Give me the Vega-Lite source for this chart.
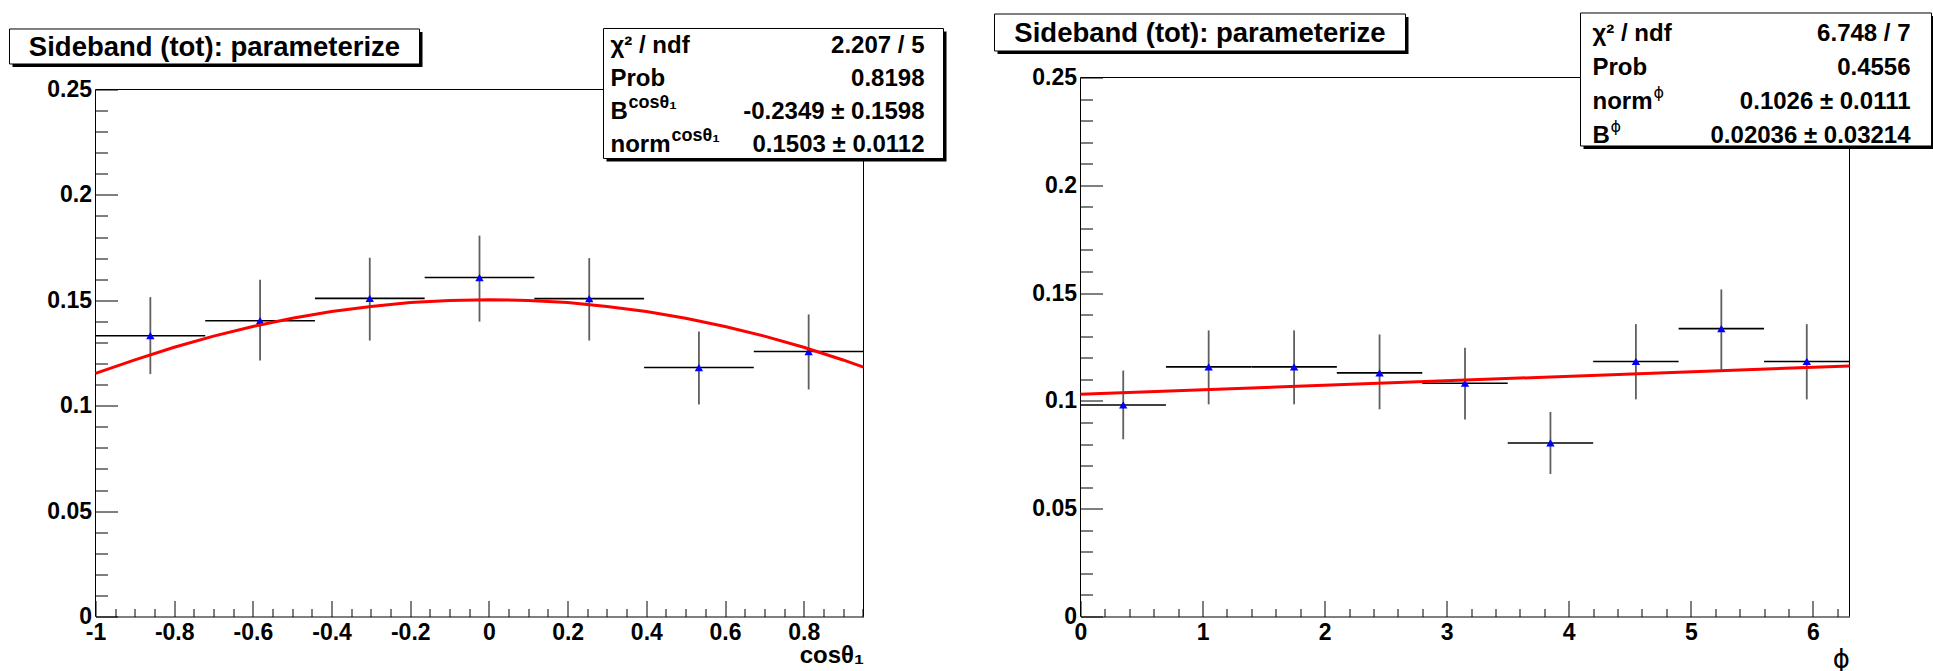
{
  "$schema": "https://vega.github.io/schema/vega-lite/v6.json",
  "background": "white",
  "padding": {"left": 8.5, "top": 11.5, "right": 0, "bottom": 0},
  "bounds": "flush",
  "spacing": 217,
  "config": {
    "view": {"stroke": null},
    "font": "Liberation Sans",
    "axis": {
      "labelFont": "Liberation Sans",
      "labelFontWeight": "bold",
      "labelFontSize": 23,
      "labelColor": "black",
      "tickColor": "black",
      "tickWidth": 1,
      "domainColor": "black",
      "domainWidth": 1,
      "grid": false,
      "labelOverlap": false,
      "labelFlush": false,
      "labelBound": false,
      "titleFont": "Liberation Sans",
      "titleColor": "black"
    }
  },
  "datasets": {
    "one": [{}],
    "left": [
      {"x": -0.8606, "xlo": -1.0, "xhi": -0.7211, "y": 0.1332, "ylo": 0.1150, "yhi": 0.1515},
      {"x": -0.5817, "xlo": -0.7211, "xhi": -0.4423, "y": 0.1403, "ylo": 0.1214, "yhi": 0.1597},
      {"x": -0.3029, "xlo": -0.4423, "xhi": -0.1634, "y": 0.1509, "ylo": 0.1309, "yhi": 0.1702},
      {"x": -0.0240, "xlo": -0.1634, "xhi": 0.1154, "y": 0.1608, "ylo": 0.1399, "yhi": 0.1807},
      {"x": 0.2549, "xlo": 0.1154, "xhi": 0.3943, "y": 0.1508, "ylo": 0.1309, "yhi": 0.1700},
      {"x": 0.5337, "xlo": 0.3943, "xhi": 0.6731, "y": 0.1181, "ylo": 0.1006, "yhi": 0.1352},
      {"x": 0.8126, "xlo": 0.6731, "xhi": 0.952, "y": 0.1257, "ylo": 0.1077, "yhi": 0.1433}
    ],
    "leftfit": [
      {"x": -1.0, "f": 0.1153}, {"x": -0.9, "f": 0.1217}, {"x": -0.8, "f": 0.1277},
      {"x": -0.7, "f": 0.1330}, {"x": -0.6, "f": 0.1376}, {"x": -0.5, "f": 0.1415},
      {"x": -0.4, "f": 0.1447}, {"x": -0.3, "f": 0.1471}, {"x": -0.2, "f": 0.1489},
      {"x": -0.1, "f": 0.1499}, {"x": 0.0, "f": 0.1503}, {"x": 0.1, "f": 0.1499},
      {"x": 0.2, "f": 0.1489}, {"x": 0.3, "f": 0.1471}, {"x": 0.4, "f": 0.1447},
      {"x": 0.5, "f": 0.1415}, {"x": 0.6, "f": 0.1376}, {"x": 0.7, "f": 0.1330},
      {"x": 0.8, "f": 0.1277}, {"x": 0.9, "f": 0.1217}, {"x": 0.952, "f": 0.1183}
    ],
    "right": [
      {"x": 0.35, "xlo": 0.0, "xhi": 0.7, "y": 0.0981, "ylo": 0.0822, "yhi": 0.1141},
      {"x": 1.05, "xlo": 0.7, "xhi": 1.4, "y": 0.1158, "ylo": 0.0984, "yhi": 0.1327},
      {"x": 1.75, "xlo": 1.4, "xhi": 2.1, "y": 0.1158, "ylo": 0.0984, "yhi": 0.1327},
      {"x": 2.45, "xlo": 2.1, "xhi": 2.8, "y": 0.1130, "ylo": 0.0961, "yhi": 0.1308},
      {"x": 3.15, "xlo": 2.8, "xhi": 3.5, "y": 0.1082, "ylo": 0.0914, "yhi": 0.1246},
      {"x": 3.85, "xlo": 3.5, "xhi": 4.2, "y": 0.0805, "ylo": 0.0661, "yhi": 0.0949},
      {"x": 4.55, "xlo": 4.2, "xhi": 4.9, "y": 0.1183, "ylo": 0.1007, "yhi": 0.1356},
      {"x": 5.25, "xlo": 4.9, "xhi": 5.6, "y": 0.1335, "ylo": 0.1144, "yhi": 0.1517},
      {"x": 5.95, "xlo": 5.6, "xhi": 6.3, "y": 0.1183, "ylo": 0.1007, "yhi": 0.1356}
    ],
    "rightfit": [
      {"x": 0.0, "f": 0.1031},
      {"x": 6.3, "f": 0.1162}
    ]
  },
  "hconcat": [
    {
      "width": 768,
      "height": 539,
      "resolve": {"axis": {"x": "independent", "y": "independent"}},
      "layer": [
        {
          "data": {"name": "left"},
          "mark": {"type": "rule", "color": "black", "strokeWidth": 1.6},
          "encoding": {
            "x": {
              "field": "xlo", "type": "quantitative",
              "scale": {"domain": [-1, 0.952], "nice": false, "zero": false},
              "axis": {
                "orient": "bottom",
                "labelOverlap": false,
                "values": [-1, -0.8, -0.6, -0.4, -0.2, 0, 0.2, 0.4, 0.6, 0.8],
                "tickSize": -16,
                "labelPadding": 21,
                "labelExpr": "toString(round(datum.value*10)/10)",
                "title": "cosθ₁",
                "titleFontSize": 24,
                "titleFontWeight": "bold",
                "titleAnchor": "end",
                "titleAlign": "right",
                "titleBaseline": "alphabetic",
                "titleX": 768,
                "titleY": 46
              }
            },
            "x2": {"field": "xhi"},
            "y": {
              "field": "y", "type": "quantitative",
              "scale": {"domain": [0, 0.25569], "nice": false, "zero": false},
              "axis": {
                "orient": "left",
                "labelOverlap": false,
                "values": [0, 0.05, 0.1, 0.15, 0.2, 0.25],
                "domain": false,
                "tickSize": -22,
                "labelPadding": 26,
                "labelExpr": "toString(round(datum.value*100)/100)",
                "title": null
              }
            }
          }
        },
        {
          "data": {"name": "left"},
          "mark": {"type": "rule", "color": "#5f5f5f", "strokeWidth": 1.8},
          "encoding": {
            "x": {
              "field": "x", "type": "quantitative",
              "axis": {
                "orient": "bottom",
                "values": [-0.95, -0.9, -0.85, -0.75, -0.7, -0.65, -0.55, -0.5, -0.45, -0.35, -0.3, -0.25, -0.15, -0.1, -0.05, 0.05, 0.1, 0.15, 0.25, 0.3, 0.35, 0.45, 0.5, 0.55, 0.65, 0.7, 0.75, 0.85, 0.9, 0.95],
                "tickSize": -8,
                "labels": false,
                "domain": false,
                "title": null
              }
            },
            "y": {
              "field": "ylo", "type": "quantitative",
              "axis": {
                "orient": "left",
                "values": [0.01, 0.02, 0.03, 0.04, 0.06, 0.07, 0.08, 0.09, 0.11, 0.12, 0.13, 0.14, 0.16, 0.17, 0.18, 0.19, 0.21, 0.22, 0.23, 0.24],
                "tickSize": -12,
                "labels": false,
                "domain": false,
                "title": null
              }
            },
            "y2": {"field": "yhi"}
          }
        },
        {
          "data": {"name": "one"},
          "mark": {"type": "rule", "color": "black", "strokeWidth": 1},
          "encoding": {
            "x": {"datum": -1, "type": "quantitative", "axis": null},
            "x2": {"datum": 0.952},
            "y": {"datum": 0.25, "type": "quantitative", "axis": null}
          }
        },
        {
          "data": {"name": "one"},
          "mark": {"type": "rule", "color": "black", "strokeWidth": 1},
          "encoding": {
            "x": {"datum": 0.952, "type": "quantitative", "axis": null},
            "y": {"datum": 0, "type": "quantitative", "axis": null},
            "y2": {"datum": 0.25}
          }
        },
        {
          "data": {"name": "one"},
          "mark": {"type": "rule", "color": "black", "strokeWidth": 1},
          "encoding": {
            "x": {"datum": -1, "type": "quantitative", "axis": null},
            "y": {"datum": 0, "type": "quantitative", "axis": null},
            "y2": {"datum": 0.25}
          }
        },
        {
          "data": {"name": "left"},
          "mark": {"type": "point", "shape": "triangle-up", "filled": true, "color": "#0000ff", "size": 70, "opacity": 1},
          "encoding": {
            "x": {"field": "x", "type": "quantitative", "axis": null},
            "y": {"field": "y", "type": "quantitative", "axis": null}
          }
        },
        {
          "data": {"name": "leftfit"},
          "mark": {"type": "line", "color": "#ff0000", "strokeWidth": 3},
          "encoding": {
            "x": {"field": "x", "type": "quantitative", "axis": null},
            "y": {"field": "f", "type": "quantitative", "axis": null}
          }
        },
        {
          "data": {"name": "one"},
          "mark": {"type": "rect", "fill": "black"},
          "encoding": {
            "x": {"datum": -1.21096, "type": "quantitative", "axis": null},
            "x2": {"datum": -0.16887},
            "y": {"datum": 0.27728, "type": "quantitative", "axis": null},
            "y2": {"datum": 0.26067}
          }
        },
        {
          "data": {"name": "one"},
          "mark": {"type": "rect", "fill": "white", "stroke": "black", "strokeWidth": 1},
          "encoding": {
            "x": {"datum": -1.21859, "type": "quantitative", "axis": null},
            "x2": {"datum": -0.17649},
            "y": {"datum": 0.27870, "type": "quantitative", "axis": null},
            "y2": {"datum": 0.26210}
          }
        },
        {
          "data": {"name": "one"},
          "mark": {"type": "text", "text": "Sideband (tot): parameterize", "font": "Liberation Sans", "fontWeight": "bold", "fontSize": 27.5, "align": "center", "baseline": "alphabetic", "color": "black"},
          "encoding": {
            "x": {"datum": -0.69754, "type": "quantitative", "axis": null},
            "y": {"datum": 0.26589, "type": "quantitative", "axis": null}
          }
        },
        {
          "data": {"name": "one"},
          "mark": {"type": "rect", "fill": "black"},
          "encoding": {
            "x": {"datum": 0.29880, "type": "quantitative", "axis": null},
            "x2": {"datum": 1.16298},
            "y": {"datum": 0.27751, "type": "quantitative", "axis": null},
            "y2": {"datum": 0.21584}
          }
        },
        {
          "data": {"name": "one"},
          "mark": {"type": "rect", "fill": "white", "stroke": "black", "strokeWidth": 1},
          "encoding": {
            "x": {"datum": 0.29118, "type": "quantitative", "axis": null},
            "x2": {"datum": 1.15535},
            "y": {"datum": 0.27894, "type": "quantitative", "axis": null},
            "y2": {"datum": 0.21727}
          }
        },
        {
          "data": {"name": "one"},
          "mark": {"type": "text", "text": ["χ² / ndf", "Prob", "B", "norm"], "lineHeight": 33, "font": "Liberation Sans", "fontWeight": "bold", "fontSize": 24, "align": "left", "baseline": "alphabetic", "color": "black"},
          "encoding": {
            "x": {"datum": 0.30897, "type": "quantitative", "axis": null},
            "y": {"datum": 0.26732, "type": "quantitative", "axis": null}
          }
        },
        {
          "data": {"name": "one"},
          "mark": {"type": "text", "text": ["2.207 / 5", "0.8198", "-0.2349 ± 0.1598", "0.1503 ± 0.0112"], "lineHeight": 33, "font": "Liberation Sans", "fontWeight": "bold", "fontSize": 24, "align": "right", "baseline": "alphabetic", "color": "black"},
          "encoding": {
            "x": {"datum": 1.10706, "type": "quantitative", "axis": null},
            "y": {"datum": 0.26732, "type": "quantitative", "axis": null}
          }
        },
        {
          "data": {"name": "one"},
          "mark": {"type": "text", "text": "cosθ₁", "font": "Liberation Sans", "fontWeight": "bold", "fontSize": 18, "align": "left", "baseline": "alphabetic", "color": "black"},
          "encoding": {
            "x": {"datum": 0.35474, "type": "quantitative", "axis": null},
            "y": {"datum": 0.24123, "type": "quantitative", "axis": null}
          }
        },
        {
          "data": {"name": "one"},
          "mark": {"type": "text", "text": "cosθ₁", "font": "Liberation Sans", "fontWeight": "bold", "fontSize": 18, "align": "left", "baseline": "alphabetic", "color": "black"},
          "encoding": {
            "x": {"datum": 0.46403, "type": "quantitative", "axis": null},
            "y": {"datum": 0.22557, "type": "quantitative", "axis": null}
          }
        }
      ]
    },
    {
      "width": 769,
      "height": 539,
      "resolve": {"axis": {"x": "independent", "y": "independent"}},
      "layer": [
        {
          "data": {"name": "right"},
          "mark": {"type": "rule", "color": "black", "strokeWidth": 1.6},
          "encoding": {
            "x": {
              "field": "xlo", "type": "quantitative",
              "scale": {"domain": [0, 6.3], "nice": false, "zero": false},
              "axis": {
                "orient": "bottom",
                "labelOverlap": false,
                "values": [0, 1, 2, 3, 4, 5, 6],
                "tickSize": -16,
                "labelPadding": 21,
                "labelExpr": "toString(round(datum.value))",
                "title": "ϕ",
                "titleFont": "DejaVu Sans",
                "titleFontSize": 26,
                "titleFontWeight": "normal",
                "titleAnchor": "end",
                "titleAlign": "right",
                "titleBaseline": "middle",
                "titleX": 769,
                "titleY": 43
              }
            },
            "x2": {"field": "xhi"},
            "y": {
              "field": "y", "type": "quantitative",
              "scale": {"domain": [0, 0.25], "nice": false, "zero": false},
              "axis": {
                "orient": "left",
                "labelOverlap": false,
                "values": [0, 0.05, 0.1, 0.15, 0.2, 0.25],
                "domain": false,
                "tickSize": -22,
                "labelPadding": 26,
                "labelExpr": "toString(round(datum.value*100)/100)",
                "title": null
              }
            }
          }
        },
        {
          "data": {"name": "right"},
          "mark": {"type": "rule", "color": "#5f5f5f", "strokeWidth": 1.8},
          "encoding": {
            "x": {
              "field": "x", "type": "quantitative",
              "axis": {
                "orient": "bottom",
                "values": [0.2, 0.4, 0.6, 0.8, 1.2, 1.4, 1.6, 1.8, 2.2, 2.4, 2.6, 2.8, 3.2, 3.4, 3.6, 3.8, 4.2, 4.4, 4.6, 4.8, 5.2, 5.4, 5.6, 5.8, 6.2],
                "tickSize": -8,
                "labels": false,
                "domain": false,
                "title": null
              }
            },
            "y": {
              "field": "ylo", "type": "quantitative",
              "axis": {
                "orient": "left",
                "values": [0.01, 0.02, 0.03, 0.04, 0.06, 0.07, 0.08, 0.09, 0.11, 0.12, 0.13, 0.14, 0.16, 0.17, 0.18, 0.19, 0.21, 0.22, 0.23, 0.24],
                "tickSize": -12,
                "labels": false,
                "domain": false,
                "title": null
              }
            },
            "y2": {"field": "yhi"}
          }
        },
        {
          "data": {"name": "one"},
          "mark": {"type": "rule", "color": "black", "strokeWidth": 1},
          "encoding": {
            "x": {"datum": 0, "type": "quantitative", "axis": null},
            "x2": {"datum": 6.3},
            "y": {"datum": 0.25, "type": "quantitative", "axis": null}
          }
        },
        {
          "data": {"name": "one"},
          "mark": {"type": "rule", "color": "black", "strokeWidth": 1},
          "encoding": {
            "x": {"datum": 6.3, "type": "quantitative", "axis": null},
            "y": {"datum": 0, "type": "quantitative", "axis": null},
            "y2": {"datum": 0.25}
          }
        },
        {
          "data": {"name": "one"},
          "mark": {"type": "rule", "color": "black", "strokeWidth": 1},
          "encoding": {
            "x": {"datum": 0, "type": "quantitative", "axis": null},
            "y": {"datum": 0, "type": "quantitative", "axis": null},
            "y2": {"datum": 0.25}
          }
        },
        {
          "data": {"name": "right"},
          "mark": {"type": "point", "shape": "triangle-up", "filled": true, "color": "#0000ff", "size": 70, "opacity": 1},
          "encoding": {
            "x": {"field": "x", "type": "quantitative", "axis": null},
            "y": {"field": "y", "type": "quantitative", "axis": null}
          }
        },
        {
          "data": {"name": "rightfit"},
          "mark": {"type": "line", "color": "#ff0000", "strokeWidth": 3},
          "encoding": {
            "x": {"field": "x", "type": "quantitative", "axis": null},
            "y": {"field": "f", "type": "quantitative", "axis": null}
          }
        },
        {
          "data": {"name": "one"},
          "mark": {"type": "rect", "fill": "black"},
          "encoding": {
            "x": {"datum": -0.68000, "type": "quantitative", "axis": null},
            "x2": {"datum": 2.68720},
            "y": {"datum": 0.27806, "type": "quantitative", "axis": null},
            "y2": {"datum": 0.26090}
          }
        },
        {
          "data": {"name": "one"},
          "mark": {"type": "rect", "fill": "white", "stroke": "black", "strokeWidth": 1},
          "encoding": {
            "x": {"datum": -0.70457, "type": "quantitative", "axis": null},
            "x2": {"datum": 2.66262},
            "y": {"datum": 0.27945, "type": "quantitative", "axis": null},
            "y2": {"datum": 0.26229}
          }
        },
        {
          "data": {"name": "one"},
          "mark": {"type": "text", "text": "Sideband (tot): parameterize", "font": "Liberation Sans", "fontWeight": "bold", "fontSize": 27.5, "align": "center", "baseline": "alphabetic", "color": "black"},
          "encoding": {
            "x": {"datum": 0.97903, "type": "quantitative", "axis": null},
            "y": {"datum": 0.26647, "type": "quantitative", "axis": null}
          }
        },
        {
          "data": {"name": "one"},
          "mark": {"type": "rect", "fill": "black"},
          "encoding": {
            "x": {"datum": 4.12093, "type": "quantitative", "axis": null},
            "x2": {"datum": 6.99656},
            "y": {"datum": 0.27853, "type": "quantitative", "axis": null},
            "y2": {"datum": 0.21684}
          }
        },
        {
          "data": {"name": "one"},
          "mark": {"type": "rect", "fill": "white", "stroke": "black", "strokeWidth": 1},
          "encoding": {
            "x": {"datum": 4.09635, "type": "quantitative", "axis": null},
            "x2": {"datum": 6.97198},
            "y": {"datum": 0.27992, "type": "quantitative", "axis": null},
            "y2": {"datum": 0.21823}
          }
        },
        {
          "data": {"name": "one"},
          "mark": {"type": "text", "text": ["χ² / ndf", "Prob", "norm", "B"], "lineHeight": 34, "font": "Liberation Sans", "fontWeight": "bold", "fontSize": 24, "align": "left", "baseline": "alphabetic", "color": "black"},
          "encoding": {
            "x": {"datum": 4.19466, "type": "quantitative", "axis": null},
            "y": {"datum": 0.26693, "type": "quantitative", "axis": null}
          }
        },
        {
          "data": {"name": "one"},
          "mark": {"type": "text", "text": ["6.748 / 7", "0.4556", "0.1026 ± 0.0111", "0.02036 ± 0.03214"], "lineHeight": 34, "font": "Liberation Sans", "fontWeight": "bold", "fontSize": 24, "align": "right", "baseline": "alphabetic", "color": "black"},
          "encoding": {
            "x": {"datum": 6.8, "type": "quantitative", "axis": null},
            "y": {"datum": 0.26693, "type": "quantitative", "axis": null}
          }
        },
        {
          "data": {"name": "one"},
          "mark": {"type": "text", "text": "ϕ", "font": "DejaVu Sans", "fontSize": 16, "align": "left", "baseline": "alphabetic", "color": "black"},
          "encoding": {
            "x": {"datum": 4.69441, "type": "quantitative", "axis": null},
            "y": {"datum": 0.24049, "type": "quantitative", "axis": null}
          }
        },
        {
          "data": {"name": "one"},
          "mark": {"type": "text", "text": "ϕ", "font": "DejaVu Sans", "fontSize": 16, "align": "left", "baseline": "alphabetic", "color": "black"},
          "encoding": {
            "x": {"datum": 4.34213, "type": "quantitative", "axis": null},
            "y": {"datum": 0.22472, "type": "quantitative", "axis": null}
          }
        }
      ]
    }
  ]
}
